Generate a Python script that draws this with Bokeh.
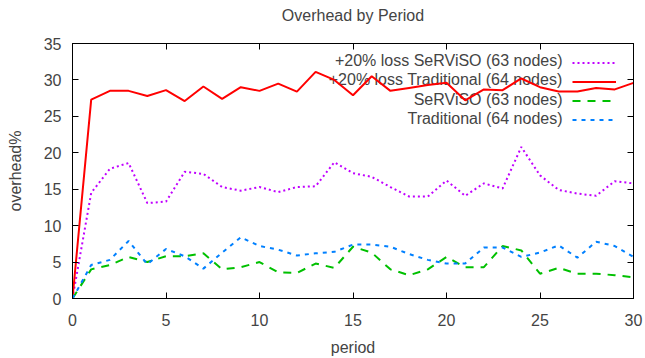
from bokeh.plotting import figure
from bokeh.models import (LinearAxis, Range1d, Legend, LegendItem, Label,
                          FixedTicker)
from bokeh.embed import file_html
from bokeh.resources import INLINE

period = list(range(31))
loss_serviso = [0, 14.5, 17.8, 18.6, 13.1, 13.3, 17.4, 17.1, 15.3, 14.8, 15.3,
                14.6, 15.3, 15.4, 18.7, 17.2, 16.7, 15.3, 14.0, 14.0, 16.2,
                14.1, 15.8, 15.1, 20.8, 16.9, 14.9, 14.4, 14.1, 16.1, 15.8]
loss_traditional = [0, 27.3, 28.5, 28.5, 27.8, 28.6, 27.1, 29.1, 27.4, 29.0, 28.5,
                    29.5, 28.4, 31.1, 30.0, 27.9, 30.5, 28.5, 28.9, 29.3, 29.6,
                    27.2, 28.7, 28.6, 30.2, 29.0, 28.4, 28.4, 28.9, 28.7, 29.6]
serviso = [0, 4.0, 4.6, 5.7, 5.0, 5.8, 5.8, 6.2, 4.0, 4.3, 5.0,
           3.6, 3.5, 4.8, 4.2, 7.1, 6.3, 4.0, 3.2, 4.0, 5.7,
           4.3, 4.3, 7.2, 6.6, 3.4, 4.2, 3.4, 3.4, 3.2, 2.9]
traditional = [0, 4.6, 5.3, 7.9, 4.7, 6.8, 5.8, 4.1, 6.3, 8.4, 7.2,
               6.7, 5.9, 6.2, 6.4, 7.4, 7.4, 7.1, 6.1, 5.3, 4.8,
               4.8, 7.0, 7.0, 5.7, 6.3, 7.3, 5.6, 7.8, 7.2, 5.7]

title = "Overhead by Period"
labels = ["+20% loss SeRViSO (63 nodes)", "+20% loss Traditional (64 nodes)",
          "SeRViSO (63 nodes)", "Traditional (64 nodes)"]
xticks = [0, 5, 10, 15, 20, 25, 30]
yticks = [0, 5, 10, 15, 20, 25, 30, 35]

FONT = "Liberation Sans"
FS = "16px"

p = figure(width=645, height=358, output_backend="svg", toolbar_location=None,
           title=None,
           x_range=Range1d(0, 30), y_range=Range1d(0, 35),
           min_border_left=72, min_border_right=12, min_border_top=43,
           min_border_bottom=59)
p.xgrid.visible = False
p.ygrid.visible = False
p.outline_line_color = "black"
p.outline_line_width = 1
p.background_fill_color = "white"

for ax in (p.xaxis[0], p.yaxis[0]):
    ax.major_tick_in = 6
    ax.major_tick_out = 0
    ax.minor_tick_line_color = None
    ax.major_label_text_font = FONT
    ax.major_label_text_font_size = FS
    ax.axis_label_text_font = FONT
    ax.axis_label_text_font_size = FS
    ax.axis_label_text_font_style = "normal"
    ax.axis_line_color = "black"
p.xaxis[0].ticker = FixedTicker(ticks=xticks)
p.yaxis[0].ticker = FixedTicker(ticks=yticks)
p.xaxis[0].axis_label = "period"
p.yaxis[0].axis_label = "overhead%"
p.xaxis[0].major_label_standoff = 15
p.yaxis[0].major_label_standoff = 11
p.xaxis[0].axis_label_standoff = 10
p.yaxis[0].axis_label_standoff = 17

# mirrored tick marks on top and right (gnuplot style); the top one carries the title
top_axis = LinearAxis(ticker=FixedTicker(ticks=xticks), major_tick_in=6, major_tick_out=0,
                      minor_tick_line_color=None, major_label_text_font_size="1px",
                      major_label_text_color=None, major_label_standoff=0,
                      axis_line_color="black", axis_label=title,
                      axis_label_text_font=FONT, axis_label_text_font_size=FS,
                      axis_label_text_font_style="normal", axis_label_standoff=20)
p.add_layout(top_axis, "above")
right_axis = LinearAxis(ticker=FixedTicker(ticks=yticks), major_tick_in=6, major_tick_out=0,
                        minor_tick_line_color=None, major_label_text_font_size="1px",
                        major_label_text_color=None, major_label_standoff=0,
                        axis_line_color="black")
p.add_layout(right_axis, "right")

r1 = p.line(period, loss_serviso, line_color="#c000ff", line_width=2, line_dash="2 3")
r2 = p.line(period, loss_traditional, line_color="#ff0000", line_width=2)
r3 = p.line(period, serviso, line_color="#00c000", line_width=2, line_dash="8 7")
r4 = p.line(period, traditional, line_color="#0080ff", line_width=2, line_dash="4 5")

legend = Legend(items=[LegendItem(label=" ", renderers=[r]) for r in (r1, r2, r3, r4)],
                location=(500, 169.5), glyph_width=44, glyph_height=19,
                label_height=19, label_width=0, label_standoff=0, spacing=0,
                padding=0, margin=0, border_line_color=None,
                background_fill_alpha=0, label_text_font_size="1px",
                label_text_color=None)
p.add_layout(legend)

for i, t in enumerate(labels):
    p.add_layout(Label(x=490, y=238 - 19.3 * i, x_units="screen", y_units="screen",
                       text=t, text_align="right", text_baseline="middle",
                       text_font=FONT, text_font_size=FS, level="underlay"))

open("out.html", "w").write(file_html(p, INLINE))
